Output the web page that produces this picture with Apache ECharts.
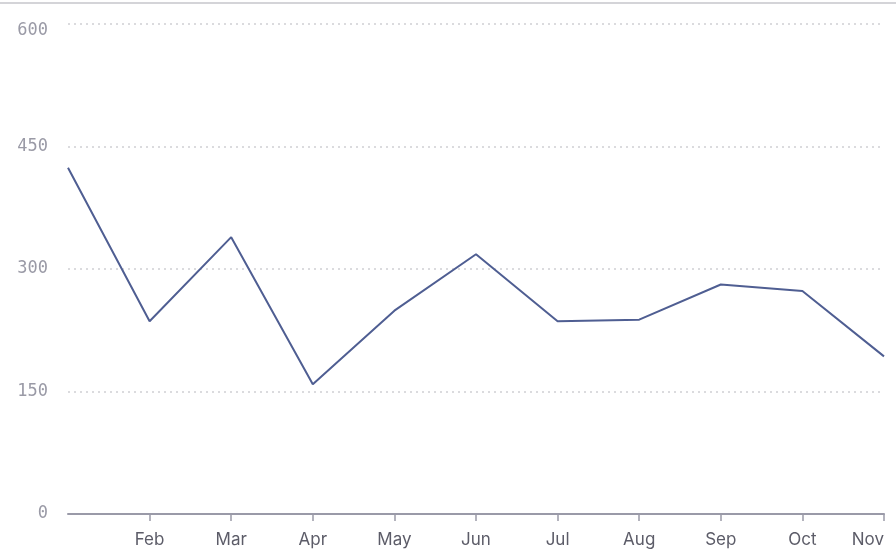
<!DOCTYPE html>
<html><head><meta charset="utf-8">
<script src="https://cdn.jsdelivr.net/npm/echarts@6/dist/echarts.min.js"></script>
<style>html,body{margin:0;padding:0;background:#fff}#c{width:896px;height:558px}</style>
</head><body><div id="c"></div>
<script>
const months = ['Jan','Feb','Mar','Apr','May','Jun','Jul','Aug','Sep','Oct','Nov'];
const values = [424, 236, 339, 159, 249, 318, 236, 238, 281, 273, 193];
const yTicks = [0, 150, 300, 450, 600];

const chart = echarts.init(document.getElementById('c'));
chart.setOption({
  animation: false,
  graphic: [{type:'line', shape:{x1:0,y1:3,x2:896,y2:3}, style:{stroke:'#d4d4d8', lineWidth:2}}],
  grid: {left: 68, right: 12, top: 24, bottom: 44, containLabel: false, outerBoundsMode: 'none'},
  xAxis: {
    type: 'category', data: months, boundaryGap: false,
    axisLine: {lineStyle: {color: '#9a9aa8', width: 2}},
    axisTick: {length: 7, lineStyle: {color: '#9a9aa8', width: 1.5}, interval: (i) => i > 0},
    axisLabel: {color: '#5c5c68', fontSize: 17, fontFamily: 'Inter', margin: 17, interval: (i) => i > 0, showMaxLabel: true, align: 'center', alignMaxLabel: 'right', hideOverlap: false},
    splitLine: {show: false}
  },
  yAxis: {
    type: 'value', min: yTicks[0], max: yTicks[yTicks.length-1], interval: 150,
    axisLine: {show: false}, axisTick: {show: false},
    axisLabel: {color: '#9a9aa6', fontSize: 17, fontFamily: 'DejaVu Sans Mono', margin: 20, align: 'right',
      formatter: (v) => v === 600 ? '{t|600}' : (yTicks.includes(v) ? String(v) : ''),
      rich: {t: {padding: [14, 0, 0, 0], fontSize: 17, fontFamily: 'DejaVu Sans Mono', color: '#9a9aa6'}}},
    splitLine: {lineStyle: {color: '#cfcfd4', type: [2, 4], width: 1.5}}
  },
  series: [{
    type: 'line', data: values, symbol: 'none',
    lineStyle: {color: '#4f5e92', width: 2}
  }]
});
</script></body></html>
